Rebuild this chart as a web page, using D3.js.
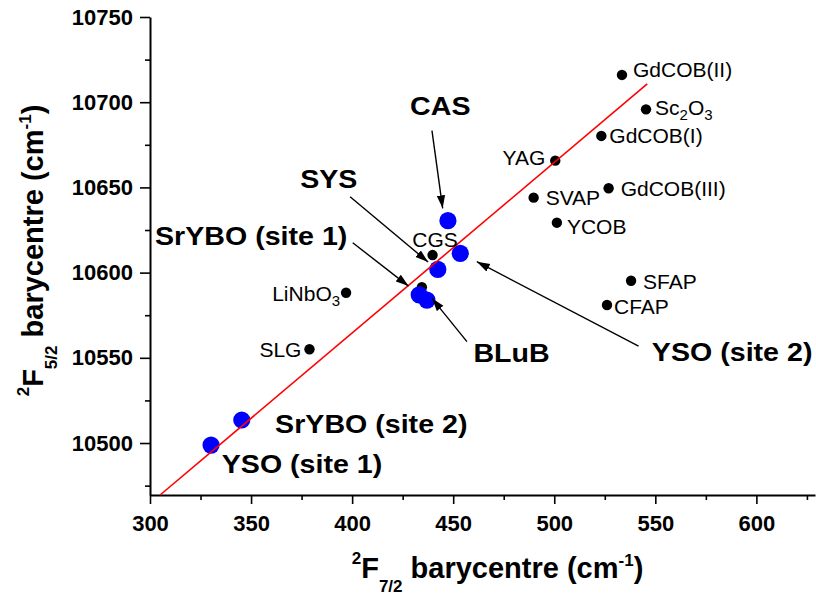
<!DOCTYPE html>
<html><head><meta charset="utf-8">
<script src="https://cdn.jsdelivr.net/npm/d3@7"></script>
<style>
html,body{margin:0;padding:0;background:#fff;}
svg{display:block;font-family:"Liberation Sans",Arial,Helvetica,sans-serif;}
</style></head>
<body>
<svg id="chart" width="816" height="596"></svg>
<script>
// ---- data ----
const refNames = ["GdCOB(II)","Sc2O3","GdCOB(I)","YAG","GdCOB(III)","SVAP","YCOB","CGS","SFAP","CFAP","LiNbO3","SLG",""];
const refF72 = [533.5,545.4,523.3,500.5,526.9,489.8,501.3,439.8,538.0,526.1,397.0,378.9,434.5];
const refF52 = [10716.0,10695.8,10680.2,10665.7,10649.5,10644.0,10629.3,10610.3,10595.2,10581.0,10588.2,10555.0,10591.4];
const newNames = ["CAS","YSO (site 2)","SYS","SrYBO (site 1)","BLuB","SrYBO (site 2)","YSO (site 1)"];
const newF72 = [447.4,453.5,442.4,433.2,437.0,345.4,330.2];
const newF52 = [10630.5,10611.3,10601.9,10586.9,10583.9,10513.5,10498.8];
const fitF72 = [305, 546];
const fitF52 = [10469.5, 10710.7];
const xTicks = [300,350,400,450,500,550,600];
const xMinor = [325,375,425,475,525,575,625];
const yTicks = [10500,10550,10600,10650,10700,10750];
const yMinor = [10475,10525,10575,10625,10675,10725];

// ---- layout (label offsets in px relative to the point) ----
const refLabelLayout = {
  "GdCOB(II)": {dx:11, dy:2, anchor:"start"},
  "Sc2O3": {dx:9, dy:6, anchor:"start"},
  "GdCOB(I)": {dx:8, dy:7, anchor:"start"},
  "YAG": {dx:-10, dy:4, anchor:"end"},
  "GdCOB(III)": {dx:12, dy:8, anchor:"start"},
  "SVAP": {dx:12, dy:7, anchor:"start"},
  "YCOB": {dx:10, dy:11, anchor:"start"},
  "CGS": {dx:2.5, dy:-8, anchor:"middle"},
  "SFAP": {dx:12, dy:8, anchor:"start"},
  "CFAP": {dx:7, dy:9, anchor:"start"},
  "LiNbO3": {dx:-6, dy:8, anchor:"end"},
  "SLG": {dx:-8, dy:8, anchor:"end"}
};
// annotation positions in data units: label start, arrow tail, arrow head
const annotations = [
  {name:"CAS", lx:428.7, ly:10692.5, arrow:[[439.5,10683.3],[444.8,10637.7]]},
  {name:"SYS", lx:374.3, ly:10649.6, arrow:[[399.0,10644.5],[437.6,10606.2]]},
  {name:"SrYBO (site 1)", lx:302.5, ly:10616.2, arrow:[[400.3,10617.5],[427.9,10592.1]]},
  {name:"BLuB", lx:460.0, ly:10547.7, arrow:[[456.8,10559.5],[439.5,10584.9]]},
  {name:"YSO (site 2)", lx:548.3, ly:10548.3, arrow:[[541.7,10556.9],[461.7,10606.4]]},
  {name:"SrYBO (site 2)", lx:361.9, ly:10505.9, arrow:null},
  {name:"YSO (site 1)", lx:335.5, ly:10482.2, arrow:null}
];

const svg = d3.select("#chart");
const x = d3.scaleLinear().domain([300,629]).range([150,815]);
const y = d3.scaleLinear().domain([10469.5,10750]).range([495,17]);

const defs = svg.append("defs");
defs.append("marker").attr("id","ah").attr("markerUnits","userSpaceOnUse")
  .attr("markerWidth",14).attr("markerHeight",10).attr("refX",13).attr("refY",5)
  .attr("orient","auto")
  .append("path").attr("d","M0,0.8 L13,5 L0,9.2 Z").attr("fill","#000");

// axes
const xMaj = d3.axisBottom(x).tickValues(xTicks).tickSize(9).tickPadding(11).tickSizeOuter(0).tickFormat(d3.format("d"));
const xMin = d3.axisBottom(x).tickValues(xMinor).tickSize(5).tickFormat("").tickSizeOuter(0);
const yMaj = d3.axisLeft(y).tickValues(yTicks).tickSize(10).tickPadding(7).tickSizeOuter(0).tickFormat(d3.format("d"));
const yMin = d3.axisLeft(y).tickValues(yMinor).tickSize(5).tickFormat("").tickSizeOuter(0);

function styleAxis(g){
  g.select(".domain").attr("stroke","#000").attr("stroke-width",2);
  g.selectAll(".tick line").attr("stroke","#000").attr("stroke-width",1.6);
  g.selectAll(".tick text").attr("fill","#000").attr("font-size",22).attr("font-weight","bold")
    .attr("font-family",'"Liberation Sans",Arial,Helvetica,sans-serif');
}
svg.append("g").attr("transform","translate(0,495)").call(xMin).call(styleAxis).select(".domain").remove();
svg.append("g").attr("transform","translate(150,0)").call(yMin).call(styleAxis).select(".domain").remove();
svg.append("g").attr("transform","translate(0,495)").call(xMaj).call(styleAxis);
svg.append("g").attr("transform","translate(150,0)").call(yMaj).call(styleAxis);

// axis titles
function axisTitle(sel, sub){
  sel.attr("font-weight","bold").attr("fill","#000").attr("text-anchor","middle");
  sel.append("tspan").attr("font-size",17).attr("dy",-14).text("2");
  sel.append("tspan").attr("font-size",29).attr("dy",14).text("F");
  sel.append("tspan").attr("font-size",17).attr("dy",14).text(sub);
  sel.append("tspan").attr("font-size",29).attr("dy",-14).text(" barycentre (cm");
  sel.append("tspan").attr("font-size",17).attr("dy",-12).text("-1");
  sel.append("tspan").attr("font-size",29).attr("dy",12).text(")");
}
svg.append("text").attr("transform","translate(497.5,578)").call(axisTitle,"7/2");
svg.append("text").attr("transform","translate(43,250.5) rotate(-90)").call(axisTitle,"5/2");

// reference points (black)
const refData = refNames.map((n,i)=>({name:n, x:refF72[i], y:refF52[i]}));
svg.append("g").selectAll("circle").data(refData).join("circle")
  .attr("cx",d=>x(d.x)).attr("cy",d=>y(d.y)).attr("r",5.2).attr("fill","#000");

// new points (blue)
const newData = newNames.map((n,i)=>({name:n, x:newF72[i], y:newF52[i]}));
svg.append("g").selectAll("circle").data(newData).join("circle")
  .attr("cx",d=>x(d.x)).attr("cy",d=>y(d.y)).attr("r",8.6).attr("fill","#0000ff");

// fit line
svg.append("path").datum(fitF72.map((v,i)=>[v,fitF52[i]]))
  .attr("d", d3.line().x(d=>x(d[0])).y(d=>y(d[1])))
  .attr("stroke","#ff0000").attr("stroke-width",1.6).attr("fill","none");

// small labels for reference points
const gl = svg.append("g").attr("font-size",21).attr("fill","#000");
refData.filter(d=>d.name).forEach(d=>{
  const L = refLabelLayout[d.name];
  const t = gl.append("text").attr("x",x(d.x)+L.dx).attr("y",y(d.y)+L.dy).attr("text-anchor",L.anchor);
  if (d.name==="Sc2O3"){
    t.append("tspan").text("Sc");
    t.append("tspan").attr("font-size",15).attr("dy",5).text("2");
    t.append("tspan").attr("dy",-5).text("O");
    t.append("tspan").attr("font-size",15).attr("dy",5).text("3");
  } else if (d.name==="LiNbO3"){
    t.append("tspan").text("LiNbO");
    t.append("tspan").attr("font-size",15).attr("dy",5).text("3");
  } else {
    t.text(d.name);
  }
});

// bold annotations with arrows
const ga = svg.append("g");
annotations.forEach(a=>{
  const t = ga.append("text").attr("x",x(a.lx)).attr("y",y(a.ly))
    .attr("font-size",26).attr("font-weight","bold").attr("fill","#000").text(a.name);
  const w = t.node().getComputedTextLength();
  t.attr("textLength", w*1.1).attr("lengthAdjust","spacingAndGlyphs");
  if (a.arrow){
    ga.append("line")
      .attr("x1",x(a.arrow[0][0])).attr("y1",y(a.arrow[0][1]))
      .attr("x2",x(a.arrow[1][0])).attr("y2",y(a.arrow[1][1]))
      .attr("stroke","#000").attr("stroke-width",1.4).attr("marker-end","url(#ah)");
  }
});
</script>
</body></html>
